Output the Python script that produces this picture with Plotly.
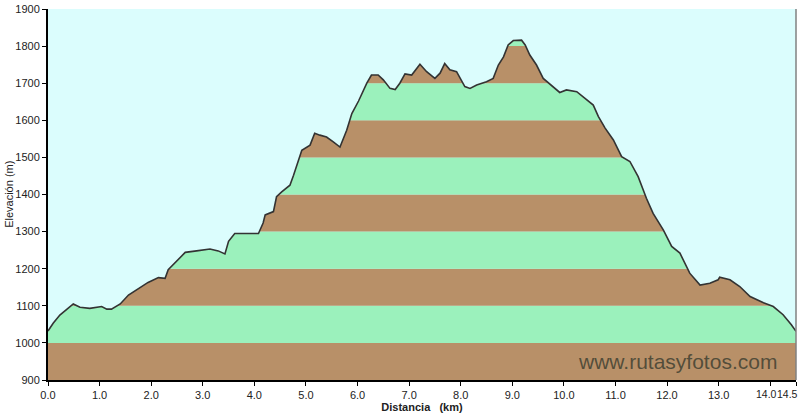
import plotly.graph_objects as go

# Elevation profile (distance km, elevation m)
distance_km = [0.00, 0.10, 0.23, 0.49, 0.62, 0.81, 1.04, 1.14, 1.23, 1.40, 1.56, 1.75, 1.94, 2.14, 2.27,
               2.33, 2.49, 2.66, 2.88, 3.14, 3.30, 3.43, 3.50, 3.62, 3.79, 4.08, 4.17, 4.21, 4.37, 4.43,
               4.53, 4.69, 4.76, 4.82, 4.88, 4.92, 5.08, 5.17, 5.27, 5.40, 5.53, 5.66, 5.79, 5.89, 6.02,
               6.18, 6.27, 6.40, 6.50, 6.63, 6.73, 6.82, 6.92, 7.05, 7.21, 7.34, 7.50, 7.60, 7.69, 7.79,
               7.92, 8.08, 8.18, 8.31, 8.50, 8.63, 8.73, 8.83, 8.92, 9.02, 9.18, 9.25, 9.34, 9.47, 9.60,
               9.79, 9.92, 10.05, 10.25, 10.41, 10.57, 10.67, 10.80, 10.96, 11.12, 11.28, 11.44, 11.60,
               11.73, 11.93, 12.09, 12.25, 12.44, 12.64, 12.83, 12.99, 13.02, 13.22, 13.41, 13.61, 13.87,
               14.06, 14.25, 14.41, 14.50]
elevation_m = [1032, 1053, 1075, 1105, 1096, 1093, 1098, 1091, 1091, 1105, 1129, 1147, 1163, 1176, 1174,
               1197, 1219, 1244, 1248, 1253, 1248, 1240, 1274, 1295, 1295, 1295, 1323, 1345, 1354, 1394,
               1407, 1425, 1452, 1475, 1502, 1519, 1533, 1565, 1560, 1555, 1542, 1528, 1573, 1618, 1652,
               1700, 1722, 1722, 1709, 1686, 1683, 1700, 1725, 1722, 1751, 1731, 1713, 1727, 1753, 1736,
               1731, 1691, 1686, 1695, 1704, 1713, 1749, 1771, 1803, 1815, 1816, 1803, 1776, 1749, 1713,
               1691, 1675, 1682, 1677, 1659, 1641, 1610, 1579, 1547, 1502, 1489, 1448, 1390,
               1349, 1304, 1260, 1242, 1188, 1156, 1161, 1170, 1177, 1170, 1152, 1125, 1108,
               1098, 1076, 1049, 1031]

band_levels = [900, 1000, 1100, 1200, 1300, 1400, 1500, 1600, 1700, 1800]
band_colors = ["#b89068", "#9bf1bc"]
x_tickvals = [0, 1, 2, 3, 4, 5, 6, 7, 8, 9, 10, 11, 12, 13, 14, 14.5]
x_ticktext = ["0.0", "1.0", "2.0", "3.0", "4.0", "5.0", "6.0", "7.0", "8.0", "9.0", "10.0",
              "11.0", "12.0", "13.0", "", ""]
x_end_labels = ["14.0", "14.5"]
y_title = "Elevación (m)"
y_top = 1900
sky = "#dbfdfd"
tick_font = dict(family="Liberation Sans, Arial", size=11, color="#222222")
end_font = dict(family="Liberation Sans, Arial", size=10.5, color="#222222")

fig = go.Figure()

# top boundary for the sky fill
fig.add_trace(go.Scatter(x=distance_km, y=[y_top] * len(distance_km), mode="lines",
                         line=dict(width=0, color=sky), hoverinfo="skip", showlegend=False))
# profile, with sky filled above it
fig.add_trace(go.Scatter(x=distance_km, y=elevation_m, mode="lines", fill="tonexty",
                         fillcolor=sky, line=dict(color="#333333", width=1.6),
                         showlegend=False))

shapes = []
for i, lvl in enumerate(band_levels):
    shapes.append(dict(type="rect", xref="paper", yref="y", x0=0, x1=1, y0=lvl, y1=lvl + 100,
                       fillcolor=band_colors[i % 2], line=dict(width=0), layer="below"))
shapes.append(dict(type="line", xref="paper", yref="paper", x0=1, x1=1, y0=0, y1=1,
                   line=dict(color="#808080", width=1.5)))
fig.update_layout(shapes=shapes)

fig.add_annotation(text="www.rutasyfotos.com", xref="paper", yref="paper", x=0.841, y=0.051,
                   showarrow=False, xanchor="center", yanchor="middle",
                   font=dict(family="Liberation Sans, Arial", size=21, color="rgba(65,65,50,0.85)"))
# last two tick labels, squeezed together inside the page like the reference
fig.add_annotation(text=x_end_labels[0], xref="x", yref="paper", x=x_tickvals[-2], y=0,
                   xshift=-4, yshift=-7, showarrow=False, xanchor="center", yanchor="top",
                   borderpad=0, font=end_font)
fig.add_annotation(text=x_end_labels[1], xref="paper", yref="paper", x=1.0045, y=0, yshift=-7,
                   showarrow=False, xanchor="right", yanchor="top", borderpad=0, font=end_font)
# y axis title
fig.add_annotation(text=y_title, xref="paper", yref="paper", x=-0.053, y=0.5,
                   showarrow=False, xanchor="center", yanchor="middle", textangle=-90,
                   font=tick_font)

fig.update_layout(
    width=799, height=416,
    margin=dict(l=48, r=3, t=9, b=36, autoexpand=False),
    paper_bgcolor="white", plot_bgcolor=sky,
    font=tick_font,
    xaxis=dict(range=[0, 14.5], tickvals=x_tickvals, ticktext=x_ticktext, automargin=False,
               showgrid=False, zeroline=False, showline=True, linecolor="black", linewidth=2,
               ticks="outside", ticklen=4, tickcolor="black",
               title=dict(text="<b>Distancia   (km)</b>", standoff=2, font=dict(size=11))),
    yaxis=dict(range=[900, 1900], dtick=100, tick0=900, automargin=False,
               showgrid=False, zeroline=False, showline=True, linecolor="black", linewidth=2,
               ticks="outside", ticklen=4, tickcolor="black"),
)

fig.write_html("out.html")
